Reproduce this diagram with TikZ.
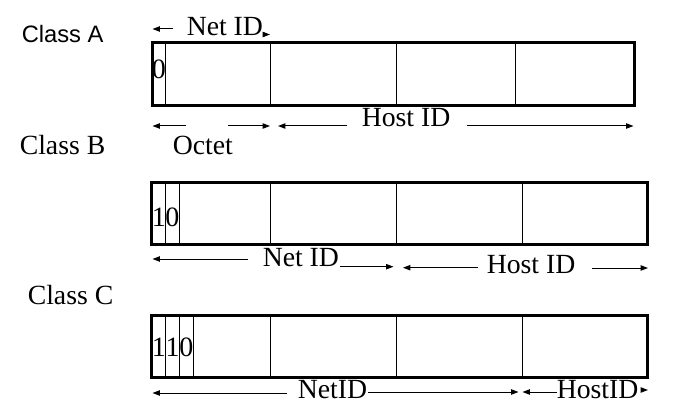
\documentclass[tikz,border=0pt]{standalone}
\usepackage{fontspec}
\setmainfont{Liberation Serif}
\newfontfamily\arialfont{Liberation Sans}
\usetikzlibrary{arrows.meta}
\begin{document}
\begin{tikzpicture}[x=0.75pt,y=-0.75pt,
  lbl/.style={font=\fontsize{20.8pt}{22pt}\selectfont, inner sep=0pt, anchor=base west},
  sanslbl/.style={font=\arialfont\fontsize{17.8pt}{20pt}\selectfont, inner sep=0pt, anchor=base west},
  digit/.style={font=\fontsize{21pt}{22pt}\selectfont, inner sep=0pt, anchor=base},
  frame/.style={line width=2.25pt},
  divider/.style={line width=0.75pt},
  arr/.style={line width=0.75pt, -{Triangle[length=5.5pt,width=4pt]}},
]
\useasboundingbox (0,0) rectangle (679,410);

% ---------- Class A ----------
\node[sanslbl] (classA) at (21.5,42.3) {Class A};
\node[lbl] (netA) at (186.5,35.5) {Net ID};
\draw[frame] (152,42.7) rectangle (634.3,106);
\foreach \x in {165.7,270.3,396.7,515.7} \draw[divider] (\x,42.7) -- (\x,106);
\node[digit] (dA1) at (158.8,78.3) {0};
\coordinate (aT1) at (173,29);   \coordinate (aT2) at (152.5,29);
\draw[arr] (aT1) -- (aT2);
\coordinate (aT3) at (262.5,34.5); \coordinate (aT4) at (270,34.5);
\draw[arr] (aT3) -- (aT4);
\node[lbl] (octet) at (172.5,155) {Octet};
\node[lbl] (hostA) at (361.5,126.7) {Host ID};
\coordinate (aB1) at (185.5,126); \coordinate (aB2) at (152.5,126);
\coordinate (aB3) at (228,126);   \coordinate (aB4) at (270,126);
\coordinate (aB5) at (347,126);   \coordinate (aB6) at (278,126);
\coordinate (aB7) at (467,126);   \coordinate (aB8) at (633.5,126);
\draw[arr] (aB1) -- (aB2);
\draw[arr] (aB3) -- (aB4);
\draw[arr] (aB5) -- (aB6);
\draw[arr] (aB7) -- (aB8);

% ---------- Class B ----------
\node[lbl] (classB) at (19.5,154.5) {Class B};
\draw[frame] (151.7,182.7) rectangle (647.3,244.7);
\foreach \x in {165.7,179,270.7,396.7,522.3} \draw[divider] (\x,182.7) -- (\x,244.7);
\node[digit] (dB1) at (158.8,226.7) {1};
\node[digit] (dB2) at (172.4,226.7) {0};
\node[lbl] (netB) at (262.5,266.7) {Net ID};
\node[lbl] (hostB) at (486.5,273) {Host ID};
\coordinate (bB1) at (248,259);   \coordinate (bB2) at (152.5,259);
\coordinate (bB3) at (340,266.7); \coordinate (bB4) at (393.5,266.7);
\coordinate (bB5) at (478,267.7); \coordinate (bB6) at (403,267.7);
\coordinate (bB7) at (592,268);   \coordinate (bB8) at (648,268);
\draw[arr] (bB1) -- (bB2);
\draw[arr] (bB3) -- (bB4);
\draw[arr] (bB5) -- (bB6);
\draw[arr] (bB7) -- (bB8);

% ---------- Class C ----------
\node[lbl] (classC) at (27.5,304) {Class C};
\draw[frame] (151.7,315) rectangle (647.3,377.5);
\foreach \x in {165.7,179.3,193.3,270.7,396.7,522.3} \draw[divider] (\x,315) -- (\x,377.5);
\node[digit] (dC1) at (158.8,356.7) {1};
\node[digit] (dC2) at (172.5,356.7) {1};
\node[digit] (dC3) at (186.3,356.7) {0};
\node[lbl] (netC) at (297.5,398) {NetID};
\node[lbl] (hostC) at (556.5,398) {HostID};
\coordinate (cB1) at (287,393);   \coordinate (cB2) at (152.5,393);
\coordinate (cB3) at (368,392);   \coordinate (cB4) at (518.5,392);
\coordinate (cB5) at (557,392);   \coordinate (cB6) at (522.5,392);
\coordinate (cB7) at (641,390);   \coordinate (cB8) at (648,390);
\draw[arr] (cB1) -- (cB2);
\draw[arr] (cB3) -- (cB4);
\draw[arr] (cB5) -- (cB6);
\draw[arr] (cB7) -- (cB8);
\end{tikzpicture}
\end{document}
